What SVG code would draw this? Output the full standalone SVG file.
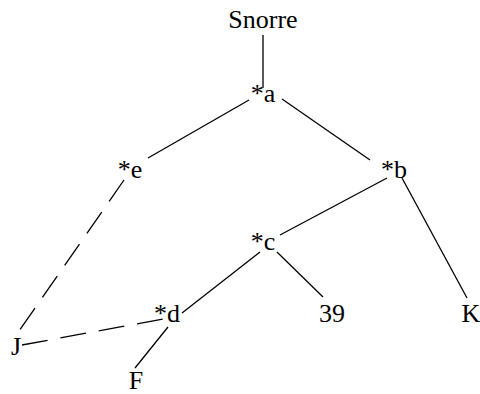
<svg xmlns="http://www.w3.org/2000/svg" width="480" height="394" viewBox="0 0 480 394">
<style>
text{font-family:'Liberation Serif','DejaVu Serif',serif;font-size:26px;fill:#000;text-anchor:middle}
line{stroke:#000;stroke-width:1.3}
.d{stroke-dasharray:26 13}
</style>
<rect width="480" height="394" fill="#fff"/>
<g id="connectors">
<line x1="263" y1="35" x2="263" y2="88"/>
<line x1="249" y1="100" x2="148" y2="158"/>
<line x1="282" y1="99" x2="370" y2="160"/>
<line x1="387" y1="178" x2="280" y2="235"/>
<line x1="402" y1="178" x2="467" y2="298"/>
<line x1="260" y1="252" x2="182" y2="313"/>
<line x1="277" y1="252" x2="323" y2="297"/>
<line x1="168" y1="327" x2="135" y2="368"/>
<line class="d" x1="124" y1="180" x2="17" y2="334"/>
<line class="d" x1="22" y1="345" x2="163" y2="319"/>
</g>
<g id="Snorre"><text x="263" y="28">Snorre</text></g>
<g id="a"><text x="263" y="102">*a</text></g>
<g id="e"><text x="130" y="178">*e</text></g>
<g id="b"><text x="394" y="178">*b</text></g>
<g id="c"><text x="263" y="250">*c</text></g>
<g id="d"><text x="167" y="322">*d</text></g>
<g id="n39"><text x="332" y="322">39</text></g>
<g id="K"><text x="471" y="322">K</text></g>
<g id="J"><text x="16" y="355">J</text></g>
<g id="F"><text x="136" y="389">F</text></g>
</svg>
